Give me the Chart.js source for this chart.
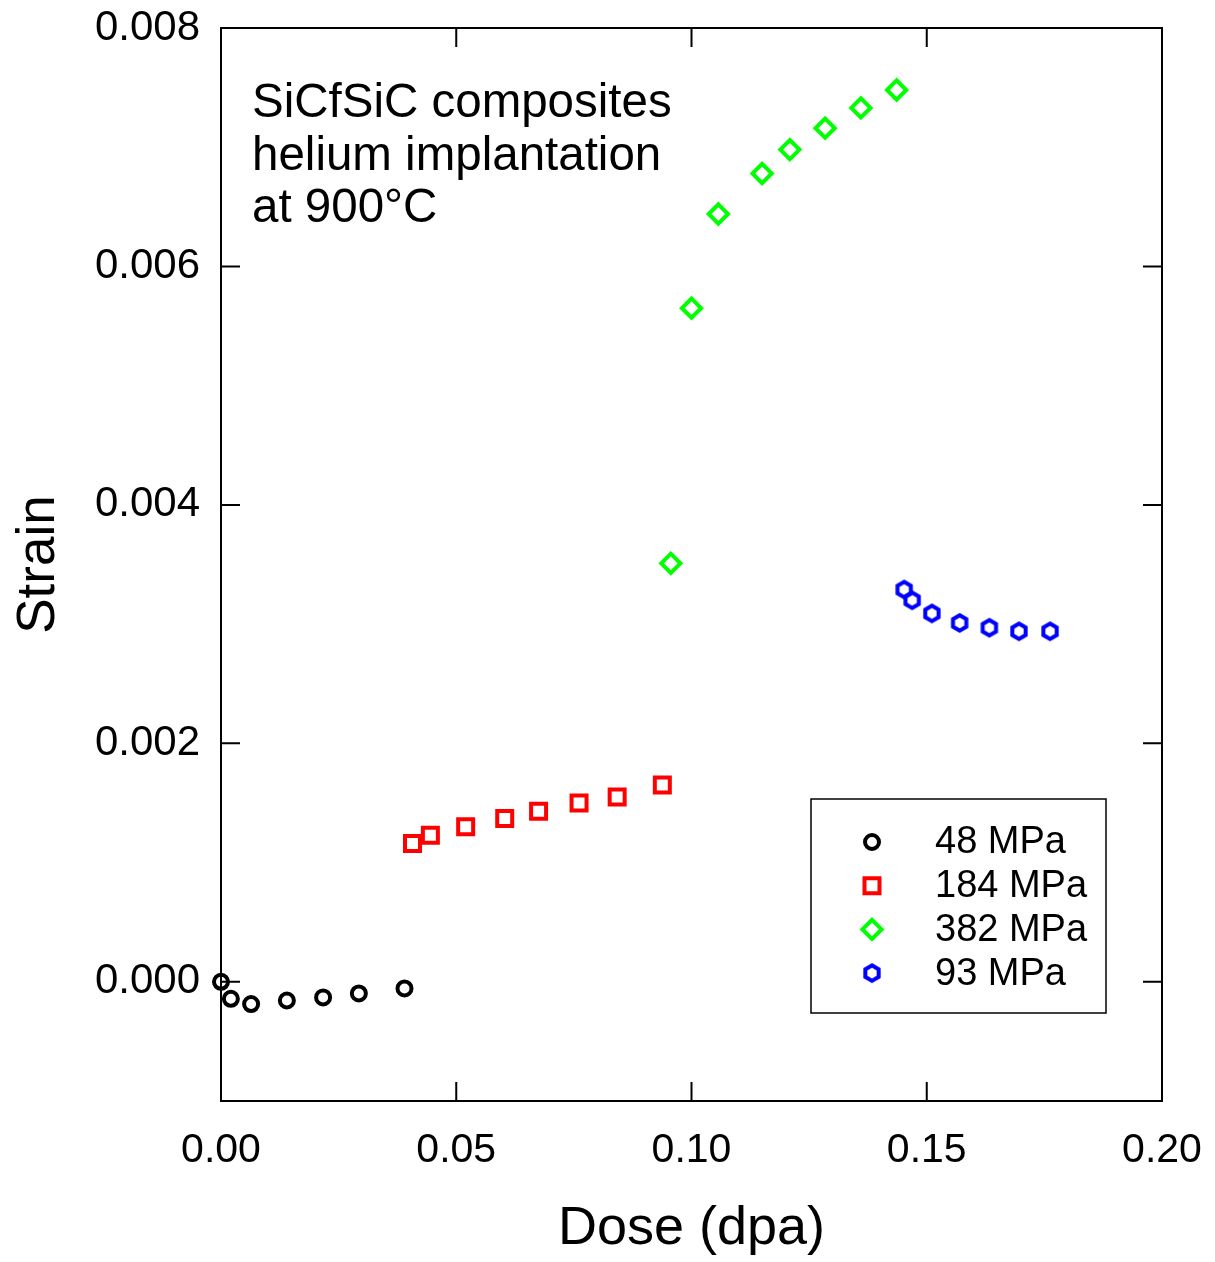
<!DOCTYPE html>
<html>
<head>
<meta charset="utf-8">
<script src="https://cdn.jsdelivr.net/npm/chart.js@4/dist/chart.umd.min.js"></script>
<style>
  html, body { margin: 0; padding: 0; background: #fff; }
  #wrap { width: 1215px; height: 1262px; }
</style>
</head>
<body>
<div id="wrap"><canvas id="grafico" width="1215" height="1262"></canvas></div>
<script>
// valores
const dose48 = [0, 0.0021, 0.0064, 0.0140, 0.0217, 0.0293, 0.0390];
const strain48 = [0, -0.000143, -0.000187, -0.000157, -0.000131, -0.000098, -0.000056];

const dose184 = [0.0407, 0.0445, 0.0520, 0.0603, 0.0675, 0.0761, 0.0842, 0.0938];
const strain184 = [0.00116, 0.00123, 0.00130, 0.00137, 0.00143, 0.00150, 0.00155, 0.00165];

const dose382 = [0.0956, 0.1000, 0.1057, 0.1150, 0.1209, 0.1284, 0.1360, 0.1436];
const strain382 = [0.00351, 0.00565, 0.00644, 0.00678, 0.00698, 0.00716, 0.00733, 0.00748];

const dose93 = [0.1452, 0.1469, 0.1511, 0.1570, 0.1633, 0.1696, 0.1762];
const strain93 = [0.00329, 0.00320, 0.00309, 0.00301, 0.00297, 0.00294, 0.00294];

const seriesLabels = ["48 MPa", "184 MPa", "382 MPa", "93 MPa"];
const xTicks = [0, 0.05, 0.10, 0.15, 0.20];
const yTicks = [0, 0.002, 0.004, 0.006, 0.008];
const noteLines = ["SiCfSiC composites", "helium implantation", "at 900°C"];

const FONT = "'Liberation Sans', Arial, sans-serif";
const TICK = 19;
const BW = 4;

function puntos(xs, ys) {
  return xs.map((v, i) => ({ x: v, y: ys[i] }));
}

// hexagono para la serie de 93 MPa
function hexagono(color) {
  const c = document.createElement("canvas");
  c.width = 26; c.height = 26;
  const g = c.getContext("2d");
  g.strokeStyle = color;
  g.lineWidth = BW;
  g.beginPath();
  for (let k = 0; k < 6; k++) {
    const a = -Math.PI / 2 + k * Math.PI / 3;
    const px = 13 + 7.7 * Math.cos(a), py = 13 + 7.7 * Math.sin(a);
    if (k === 0) g.moveTo(px, py); else g.lineTo(px, py);
  }
  g.closePath();
  g.stroke();
  return c;
}

function serie(label, data, color, style, radius) {
  return {
    label: label,
    data: data,
    showLine: false,
    pointStyle: style,
    pointRadius: radius,
    pointHoverRadius: radius,
    pointBorderWidth: BW,
    pointHoverBorderWidth: BW,
    borderColor: color,
    backgroundColor: "rgba(0,0,0,0)",
    clip: false
  };
}

function sinRelleno(s) {
  s.paddingTop = 0; s.paddingBottom = 0; s.paddingLeft = 0; s.paddingRight = 0;
}

const marco = {
  id: "marco",
  beforeDatasetsDraw(chart) {
    const { ctx, chartArea: a, scales: { x, y } } = chart;
    ctx.save();
    ctx.strokeStyle = "#000";
    ctx.lineWidth = 2;
    ctx.strokeRect(a.left, a.top, a.right - a.left, a.bottom - a.top);
    ctx.beginPath();
    xTicks.forEach(v => {
      const px = x.getPixelForValue(v);
      ctx.moveTo(px, a.bottom); ctx.lineTo(px, a.bottom - TICK);
      ctx.moveTo(px, a.top); ctx.lineTo(px, a.top + TICK);
    });
    yTicks.forEach(v => {
      const py = y.getPixelForValue(v);
      ctx.moveTo(a.left, py); ctx.lineTo(a.left + TICK, py);
      ctx.moveTo(a.right, py); ctx.lineTo(a.right - TICK, py);
    });
    ctx.stroke();
    ctx.restore();
  },
  afterDatasetsDraw(chart) {
    const { ctx, chartArea: a } = chart;
    ctx.save();
    // texto de la nota
    ctx.fillStyle = "#000";
    ctx.font = "47.5px " + FONT;
    ctx.textAlign = "left";
    ctx.textBaseline = "alphabetic";
    noteLines.forEach((t, i) => ctx.fillText(t, a.left + 31, a.top + 89 + i * 52.5));

    // leyenda
    const bx = a.right - 56 - 295, by = a.bottom - 88 - 214;
    ctx.lineWidth = 1.5;
    ctx.strokeStyle = "#000";
    ctx.strokeRect(bx, by, 295, 214);
    ctx.font = "38px " + FONT;
    ctx.textBaseline = "middle";
    chart.data.datasets.forEach((ds, i) => {
      const cy = by + 43 + i * 43.7;
      ctx.save();
      ctx.strokeStyle = ds.borderColor;
      ctx.fillStyle = "rgba(0,0,0,0)";
      ctx.lineWidth = ds.pointBorderWidth;
      Chart.helpers.drawPoint(ctx, {
        pointStyle: ds.pointStyle, radius: ds.pointRadius, rotation: 0, borderWidth: ds.pointBorderWidth
      }, bx + 61, cy);
      ctx.restore();
      ctx.fillStyle = "#000";
      ctx.fillText(ds.label, bx + 124, cy + 1);
    });
    ctx.restore();
  }
};

const ctx = document.getElementById("grafico").getContext("2d");
const grafico = new Chart(ctx, {
  type: "scatter",
  data: {
    datasets: [
      serie(seriesLabels[0], puntos(dose48, strain48), "#000000", "circle", 7),
      serie(seriesLabels[1], puntos(dose184, strain184), "#ff0000", "rect", 10.6),
      serie(seriesLabels[2], puntos(dose382, strain382), "#00ff00", "rectRot", 9.6),
      serie(seriesLabels[3], puntos(dose93, strain93), "#0000ff", hexagono("#0000ff"), 8)
    ]
  },
  options: {
    responsive: false,
    animation: false,
    devicePixelRatio: 1,
    layout: { padding: { top: 28, right: 53, left: 0, bottom: 0 } },
    plugins: {
      legend: { display: false },
      tooltip: { enabled: false }
    },
    scales: {
      x: {
        type: "linear",
        min: 0,
        max: 0.2,
        afterBuildTicks: s => { s.ticks = xTicks.map(v => ({ value: v })); },
        afterFit: s => { s.height = 161; sinRelleno(s); },
        grid: { display: false, drawTicks: false },
        border: { display: false },
        ticks: {
          padding: 25,
          color: "#000",
          font: { family: FONT, size: 41 },
          maxRotation: 0,
          callback: v => v.toFixed(2)
        },
        title: {
          display: true,
          text: "Dose (dpa)",
          color: "#000",
          font: { family: FONT, size: 54 },
          padding: { top: 0, bottom: 0 }
        }
      },
      y: {
        type: "linear",
        min: -0.001,
        max: 0.008,
        afterBuildTicks: s => { s.ticks = yTicks.map(v => ({ value: v })); },
        afterFit: s => { s.width = 221; sinRelleno(s); },
        grid: { display: false, drawTicks: false },
        border: { display: false },
        ticks: {
          padding: 21,
          color: "#000",
          font: { family: FONT, size: 42 },
          callback: v => v.toFixed(3)
        },
        title: {
          display: true,
          text: "Strain",
          color: "#000",
          font: { family: FONT, size: 53 },
          padding: { top: 8, bottom: 0 }
        }
      }
    }
  },
  plugins: [marco]
});
</script>
</body>
</html>
